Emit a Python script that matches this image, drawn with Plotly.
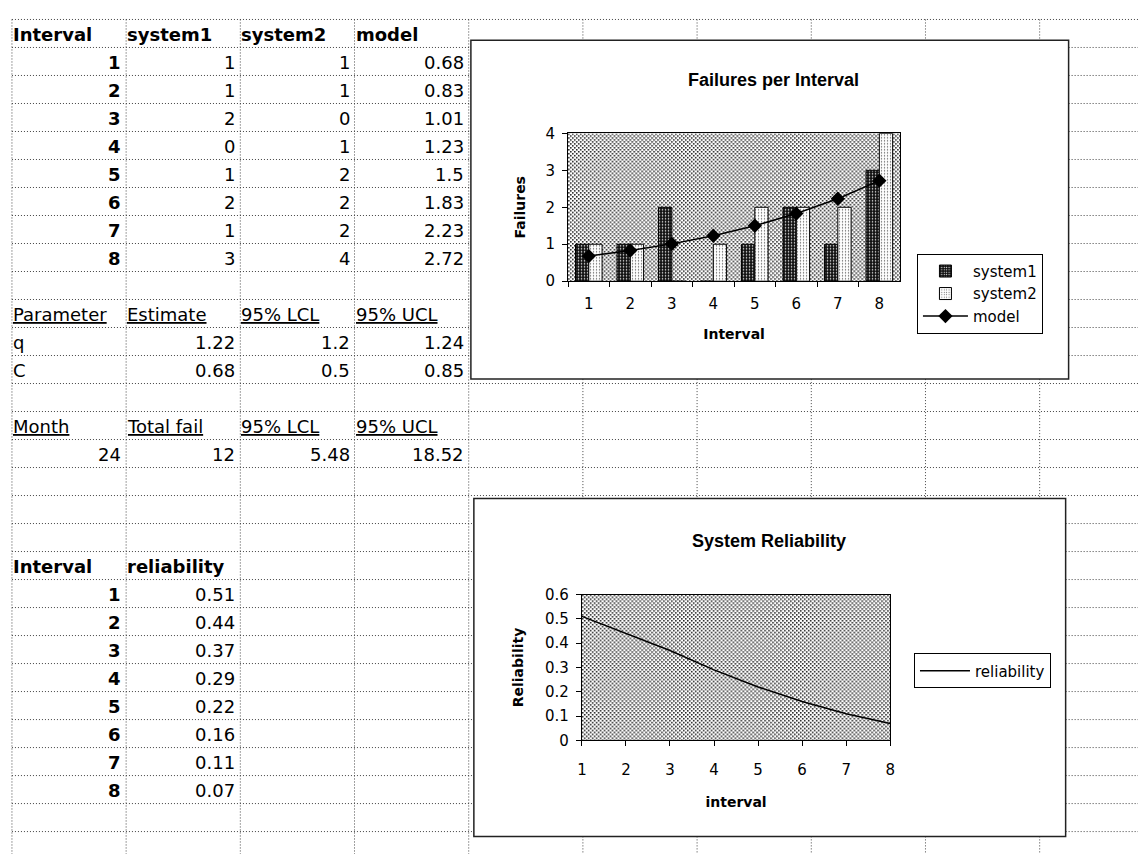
import base64
import plotly.graph_objects as go

W, H = 1143, 863

# ---------------- data ----------------
intervals = [1, 2, 3, 4, 5, 6, 7, 8]
system1 = [1, 1, 2, 0, 1, 2, 1, 3]
system2 = [1, 1, 0, 1, 2, 2, 2, 4]
model = [0.68, 0.83, 1.01, 1.23, 1.5, 1.83, 2.23, 2.72]
reliability = [0.51, 0.44, 0.37, 0.29, 0.22, 0.16, 0.11, 0.07]

param_names = ["q", "C"]
param_est = [1.22, 0.68]
param_lcl = [1.2, 0.5]
param_ucl = [1.24, 0.85]

month = [24]
total_fail = [12]
fail_lcl = [5.48]
fail_ucl = [18.52]

# ---------------- geometry helpers (pixels -> paper) ----------------
ROW0, RH = 10.7, 28.6
COL0, CW = 7.0, 115.2


def px(x):
    return x / W


def py(y):
    return 1 - y / H


def row_c(k):
    return ROW0 + RH * (k + 0.5)


def col_l(j):
    return COL0 + CW * j


CH1 = (470, 32, 1073, 378)   # chart 1 frame (x0, y0, x1, y1)
CH2 = (473, 500, 1070, 845)  # chart 2 frame
P1 = (568, 127, 903, 278)    # plot area chart 1
P2 = (582, 598, 893, 747)    # plot area chart 2

FONT = "DejaVu Sans"
AFONT = "Liberation Sans"

fig = go.Figure()

# ---------------- chart 1: failures per interval ----------------
cats = [str(i) for i in intervals]
fig.add_trace(go.Bar(
    x=cats, y=system1, name="system1", xaxis="x", yaxis="y", legend="legend",
    legendgroup="a",
    marker=dict(color="#111", line=dict(color="black", width=1),
                pattern=dict(shape=".", bgcolor="#111", fgcolor="white",
                             size=3, solidity=0.2, fillmode="replace")),
))
fig.add_trace(go.Bar(
    x=cats, y=system2, name="system2", xaxis="x", yaxis="y", legend="legend",
    legendgroup="b",
    marker=dict(color="white", line=dict(color="black", width=1),
                pattern=dict(shape=".", bgcolor="white", fgcolor="#555",
                             size=3, solidity=0.15, fillmode="replace")),
))
fig.add_trace(go.Scatter(
    x=cats, y=model, name="model", mode="lines+markers", xaxis="x", yaxis="y",
    legend="legend", legendgroup="c",
    line=dict(color="black", width=1.5),
    marker=dict(symbol="diamond", size=11, color="black"),
))

# ---------------- chart 2: system reliability ----------------
fig.add_trace(go.Scatter(
    x=intervals, y=reliability, name="reliability", mode="lines",
    xaxis="x2", yaxis="y2", legend="legend2",
    line=dict(color="black", width=1.5),
))


def stipple(w, h):
    svg = (f'<svg xmlns="http://www.w3.org/2000/svg" width="{w}" height="{h}">'
           '<defs><pattern id="p" width="4" height="4" patternUnits="userSpaceOnUse">'
           '<rect width="4" height="4" fill="#ffffff"/>'
           '<rect x="0" y="0" width="1.6" height="1.6" fill="#222"/>'
           '<rect x="2" y="2" width="1.6" height="1.6" fill="#222"/>'
           '</pattern></defs>'
           f'<rect width="{w}" height="{h}" fill="url(#p)"/></svg>')
    return "data:image/svg+xml;base64," + base64.b64encode(svg.encode()).decode()


images = []
for (ax, P) in (("", P1), ("2", P2)):
    images.append(dict(
        source=stipple(P[2] - P[0], P[3] - P[1]),
        xref=f"x{ax} domain", yref=f"y{ax} domain", x=0, y=1, sizex=1, sizey=1,
        xanchor="left", yanchor="top", sizing="stretch", layer="below"))

# ---------------- spreadsheet grid (dotted) ----------------
shapes = []
GRID = dict(color="#444", width=1, dash="1px,2px")


def cut(a0, a1, holes):
    segs = [(a0, a1)]
    for h0, h1 in holes:
        new = []
        for s0, s1 in segs:
            if h1 <= s0 or h0 >= s1:
                new.append((s0, s1))
            else:
                if h0 > s0:
                    new.append((s0, h0))
                if h1 < s1:
                    new.append((h1, s1))
        segs = new
    return segs


charts = [CH1, CH2]
j = 0
while col_l(j) < W:
    x = col_l(j)
    holes = [(c[1], c[3]) for c in charts if c[0] - 1 <= x <= c[2] + 1]
    for s0, s1 in cut(ROW0, H, holes):
        shapes.append(dict(type="line", xref="paper", yref="paper",
                           x0=px(x), x1=px(x), y0=py(s0), y1=py(s1),
                           line=GRID, layer="below"))
    j += 1
k = 0
while ROW0 + RH * k < H:
    y = ROW0 + RH * k
    holes = [(c[0], c[2]) for c in charts if c[1] - 1 <= y <= c[3] + 1]
    for s0, s1 in cut(COL0, W, holes):
        shapes.append(dict(type="line", xref="paper", yref="paper",
                           x0=px(s0), x1=px(s1), y0=py(y), y1=py(y),
                           line=GRID, layer="below"))
    k += 1

# chart frames
for c in charts:
    shapes.append(dict(type="rect", xref="paper", yref="paper",
                       x0=px(c[0]), x1=px(c[2]), y0=py(c[3]), y1=py(c[1]),
                       line=dict(color="#222", width=1.5), fillcolor="rgba(0,0,0,0)",
                       layer="below"))

# ---------------- cell texts ----------------
annotations = []
TS = 18


def cell(text, row, col, align="left", bold=False, size=TS):
    t = f"<b>{text}</b>" if bold else text
    if align == "left":
        x, xa = col_l(col) - 1, "left"
    else:
        x, xa = col_l(col + 1) - 3, "right"
    annotations.append(dict(text=t, xref="paper", yref="paper", x=px(x),
                            y=py(row_c(row) + 1), xanchor=xa, yanchor="middle",
                            showarrow=False,
                            font=dict(family=FONT, size=size, color="black")))


def num(v):
    return f"{v:g}"


# table 1
for j, h in enumerate(["Interval", "system1", "system2", "model"]):
    cell(h, 0, j, bold=True)
for i in range(len(intervals)):
    cell(str(intervals[i]), 1 + i, 0, "right", bold=True)
    cell(num(system1[i]), 1 + i, 1, "right")
    cell(num(system2[i]), 1 + i, 2, "right")
    cell(num(model[i]), 1 + i, 3, "right")

# table 2
for j, h in enumerate(["Parameter", "Estimate", "95% LCL", "95% UCL"]):
    cell(f"<u>{h}</u>", 10, j)
for i in range(len(param_names)):
    cell(param_names[i], 11 + i, 0)
    cell(num(param_est[i]), 11 + i, 1, "right")
    cell(num(param_lcl[i]), 11 + i, 2, "right")
    cell(num(param_ucl[i]), 11 + i, 3, "right")

# table 3
for j, h in enumerate(["Month", "Total fail", "95% LCL", "95% UCL"]):
    cell(f"<u>{h}</u>", 14, j)
cell(num(month[0]), 15, 0, "right")
cell(num(total_fail[0]), 15, 1, "right")
cell(num(fail_lcl[0]), 15, 2, "right")
cell(num(fail_ucl[0]), 15, 3, "right")

# table 4
cell("Interval", 19, 0, bold=True)
cell("reliability", 19, 1, bold=True)
for i in range(len(intervals)):
    cell(str(intervals[i]), 20 + i, 0, "right", bold=True)
    cell(num(reliability[i]), 20 + i, 1, "right")

# chart titles
annotations.append(dict(text="<b>Failures per Interval</b>", xref="paper", yref="paper",
                        x=px(775), y=py(73), xanchor="center", yanchor="middle",
                        showarrow=False, font=dict(family=AFONT, size=18, color="black")))
annotations.append(dict(text="<b>System Reliability</b>", xref="paper", yref="paper",
                        x=px(771), y=py(543), xanchor="center", yanchor="middle",
                        showarrow=False, font=dict(family=AFONT, size=18, color="black")))

TICKF = dict(family=FONT, size=15, color="black")
AXT = dict(family=FONT, size=14, color="black")

fig.update_layout(
    width=W, height=H, autosize=False,
    margin=dict(l=0, r=0, t=0, b=0),
    paper_bgcolor="white", plot_bgcolor="rgba(0,0,0,0)",
    barmode="group", bargap=0.36, bargroupgap=0,
    font=dict(family=FONT, color="black"),
    shapes=shapes, annotations=annotations, images=images,
    xaxis=dict(domain=[px(P1[0]), px(P1[2])], anchor="y", type="category",
               range=[-0.5, 7.5], showline=True, linecolor="black", linewidth=1,
               mirror=True, ticks="outside", tickson="boundaries", ticklen=5,
               tickcolor="black", tickfont=TICKF, showgrid=False, zeroline=False,
               ticklabelstandoff=9,
               title=dict(text="<b>Interval</b>", font=AXT, standoff=16)),
    yaxis=dict(domain=[py(P1[3]), py(P1[1])], anchor="x", range=[0, 4], dtick=1,
               showline=True, linecolor="black", linewidth=1, mirror=True,
               ticks="outside", ticklen=5, tickcolor="black", tickfont=TICKF,
               showgrid=False, zeroline=False, ticklabelstandoff=4,
               title=dict(text="<b>Failures</b>", font=AXT, standoff=16)),
    xaxis2=dict(domain=[px(P2[0]), px(P2[2])], anchor="y2", range=[1, 8], dtick=1,
                showline=True, linecolor="black", linewidth=1, mirror=True,
                ticks="outside", ticklen=5, tickcolor="black", tickfont=TICKF,
                showgrid=False, zeroline=False, ticklabelstandoff=11,
                title=dict(text="<b>interval</b>", font=AXT, standoff=18)),
    yaxis2=dict(domain=[py(P2[3]), py(P2[1])], anchor="x2", range=[0, 0.6], dtick=0.1,
                showline=True, linecolor="black", linewidth=1, mirror=True,
                ticks="outside", ticklen=5, tickcolor="black", tickfont=TICKF,
                showgrid=False, zeroline=False, ticklabelstandoff=4,
                title=dict(text="<b>Reliability</b>", font=AXT, standoff=18)),
    legend=dict(x=px(920), y=py(250), xanchor="left", yanchor="top",
                bgcolor="white", bordercolor="black", borderwidth=1,
                font=dict(family=FONT, size=15, color="black"),
                tracegroupgap=5, itemwidth=45, traceorder="normal"),
    legend2=dict(x=px(917), y=py(676), xanchor="left", yanchor="middle",
                 bgcolor="white", bordercolor="black", borderwidth=1,
                 font=dict(family=FONT, size=15, color="black"), itemwidth=50),
)

fig.write_html("out.html", config={"displayModeBar": False},
               post_script="document.body.style.margin='0';document.body.style.overflow='hidden';")
